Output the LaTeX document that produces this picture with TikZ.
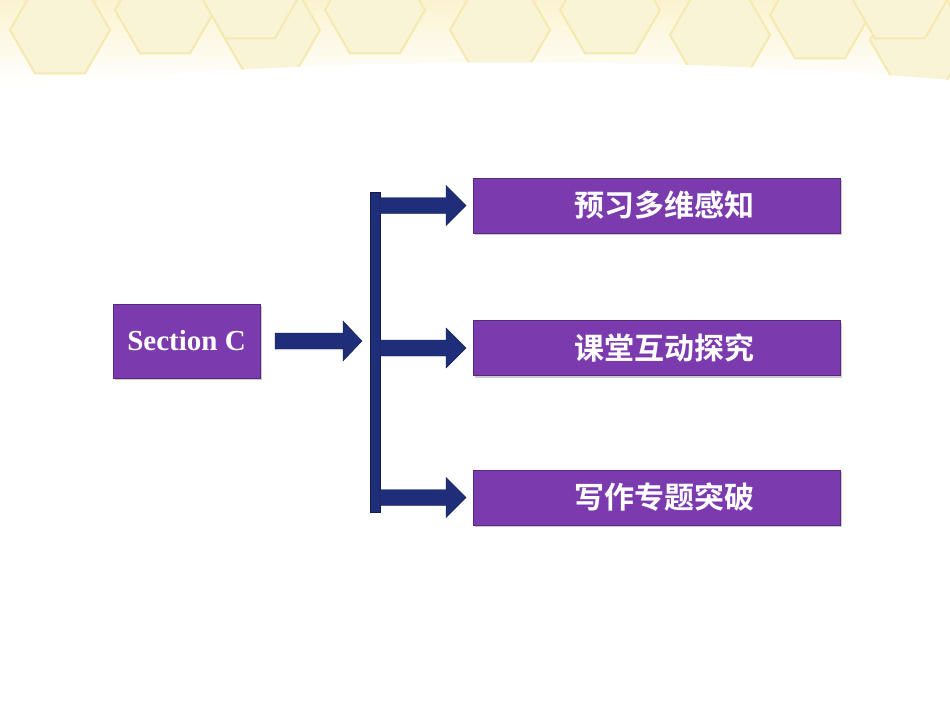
\documentclass[tikz,border=0pt]{standalone}
\usepackage{fontspec}
\setmainfont{Liberation Serif}
\newfontfamily\cjk{Noto Sans CJK SC}[BoldFont={* Bold}]
\usetikzlibrary{shapes.geometric,shadows}
\definecolor{purp}{HTML}{7B3AAE}
\definecolor{navy}{HTML}{1F2E78}
\definecolor{paley}{HTML}{FBF3CF}
\definecolor{hexc}{HTML}{F6E9B0}
\tikzset{
 box/.style={draw=purp!70!black, fill=purp, text=white, minimum height=55pt, drop shadow={shadow xshift=2pt,shadow yshift=-2pt,opacity=0.4}},
 cbox/.style={box, minimum width=367pt, font=\cjk\bfseries\fontsize{30}{30}\selectfont},
 arr/.style={fill=navy, draw=navy!60!black},
}
\begin{document}
\begin{tikzpicture}[x=1pt,y=-1pt]
\useasboundingbox (0,0) rectangle (950,713);
\fill[white] (0,0) rectangle (950,713);
% top band
\fill[top color=paley, bottom color=white] (0,0) rectangle (950,85);
\foreach \cx/\cy in {60/30,165/10,270/30,375/10,500/30,610/10,720/35,820/15,920/40,250/-5,900/-5}{
  \draw[hexc, line width=2pt, fill=hexc!50] (\cx,\cy) +(0:50) -- +(60:50) -- +(120:50) -- +(180:50) -- +(240:50) -- +(300:50) -- cycle;
}
\fill[white] (0,90) .. controls (300,55) and (650,55) .. (950,80) -- (950,110) -- (0,110) -- cycle;
% boxes
\node[box, minimum width=147pt, minimum height=74pt, font=\bfseries\fontsize{29}{29}\selectfont] (sec) at (186.5,341) {Section C};
\node[cbox] (b1) at (656.5,205.5) {\hspace{15pt}预习多维感知};
\node[cbox] (b2) at (656.5,348) {\hspace{15pt}课堂互动探究};
\node[cbox] (b3) at (656.5,497.5) {\hspace{15pt}写作专题突破};
% bar
\draw[arr] (370,192) rectangle (380,512);
% main arrow
\draw[arr] (275,333) -- (343,333) -- (343,321) -- (362,341) -- (343,361) -- (343,349) -- (275,349) -- cycle;
\foreach \y in {205.5,348,497.5}{
  \draw[arr] (380,\y-8) -- (446,\y-8) -- (446,\y-20) -- (466,\y) -- (446,\y+20) -- (446,\y+8) -- (380,\y+8) -- cycle;
}
\end{tikzpicture}
\end{document}
